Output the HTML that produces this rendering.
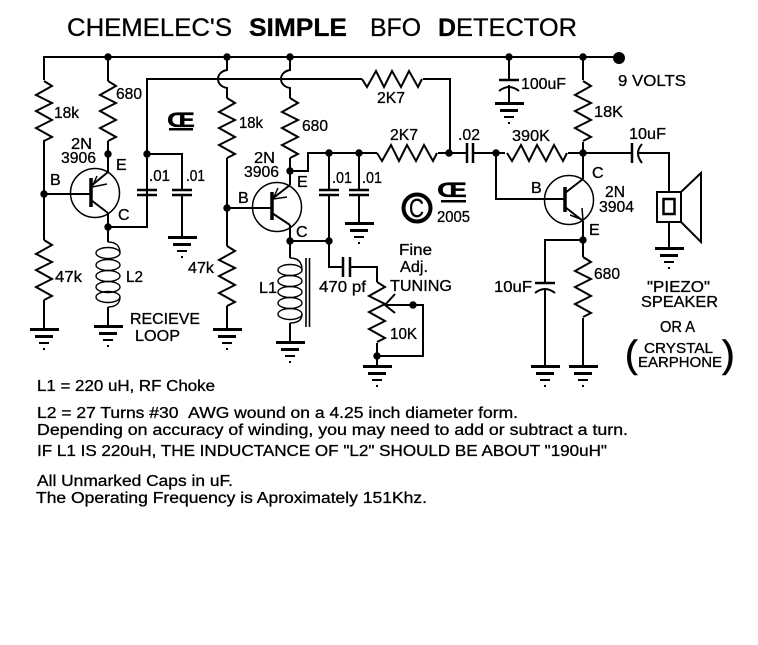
<!DOCTYPE html>
<html><head><meta charset="utf-8"><title>BFO Detector</title>
<style>
html,body{margin:0;padding:0;background:#fff}
svg{display:block}
text{font-family:"Liberation Sans",sans-serif;font-size:16px;fill:#000;stroke:#000;stroke-width:.3}
.t{font-size:25px}
.b{font-size:25px;font-weight:bold}
.s{font-size:15px}
.m{font-size:15.5px}
</style></head><body>
<svg xmlns="http://www.w3.org/2000/svg" width="758" height="645" viewBox="0 0 758 645">
<defs>
<polyline id="r" points="0,0 8,5 -8,14 8,22 -8,30 8,39 -8,47 8,56 0,60" fill="none" stroke="#000" stroke-width="2"/>
<g id="g">
<rect x="-14" y="-1" width="29" height="3" fill="#000"/>
<rect x="-9" y="6" width="18" height="3" fill="#000"/>
<rect x="-5" y="13" width="10" height="2" fill="#000"/>
<rect x="-1" y="19" width="2" height="2" fill="#000"/>
</g>
<circle id="d" r="3.7" fill="#000"/>
</defs>
<rect width="758" height="645" fill="#fff"/>
<g fill="none" stroke="#000" stroke-width="2">
<!-- rail -->
<path d="M44,80V57H619"/>
<!-- left stage -->
<path d="M44,140V240M44,300V329M44,194H91"/>
<path d="M108,57V81M108,141V172M108,213V242M108,307V326M108,227H147V190M147,195V227"/>
<path d="M147,190V79H218"/>
<path d="M147,154H182V190M182,195V237"/>
<path d="M137,190H157M137,195H157M172,190H192M172,195H192" stroke-width="2.5"/>
<path d="M91,186L108,172M91,200L108,213"/>
<path d="M91,178V207" stroke-width="3.5"/>
<path d="M92,187L97,176M92,187L107,184" stroke-width="1.5"/>
<circle cx="95" cy="193" r="24.5" stroke-width="1.5"/>
<!-- L2 -->
<g stroke-width="1.4">
<ellipse cx="108" cy="253" rx="12" ry="5.5"/><ellipse cx="108" cy="265" rx="12" ry="5.5"/><ellipse cx="108" cy="276" rx="12" ry="5.5"/><ellipse cx="108" cy="287" rx="12" ry="5.5"/><ellipse cx="108" cy="297" rx="12" ry="5.5"/>
<path d="M108,242C116,242 120,246 120,253M120,297C120,303 116,307 108,307"/>
</g>
<!-- middle stage -->
<path d="M218,79H362"/>
<path d="M227,57V70C221,71 218,75 218,79C218,83 221,87 227,88V98M227,158V246M227,306V329"/>
<path d="M290,57V70C284,71 281,75 281,79C281,83 284,87 290,88V98M290,158V185M290,225V258M290,323V342"/>
<path d="M227,208H272"/>
<path d="M272,199L290,185M272,213L290,225"/>
<path d="M272,192V220" stroke-width="3.5"/>
<path d="M273,199L278,188M273,199L287,197" stroke-width="1.5"/>
<circle cx="277" cy="207" r="24.5" stroke-width="1.5"/>
<path d="M290,171H308V153H377M438,153H467M473,153H505"/>
<path d="M329,153V190M329,195V267H343M350,267H377V282M290,241H329M359,153V190M359,195V223"/>
<path d="M319,190H339M319,195H339M349,190H369M349,195H369" stroke-width="2.5"/>
<path d="M343,257V277M350,257V277" stroke-width="2.5"/>
<path d="M467,143V163M473,143V163" stroke-width="2.5"/>
<path d="M423,79H450V153"/>
<g stroke-width="1.4">
<ellipse cx="290" cy="270" rx="12" ry="5.5"/><ellipse cx="290" cy="281" rx="12" ry="5.5"/><ellipse cx="290" cy="292" rx="12" ry="5.5"/><ellipse cx="290" cy="303" rx="12" ry="5.5"/><ellipse cx="290" cy="314" rx="12" ry="5.5"/>
<path d="M290,258C298,258 302,262 302,270M302,314C302,320 298,323 290,323"/>
</g>
<path d="M306,258V327M309.5,258V327" stroke-width="1.6"/>
<!-- pot -->
<path d="M377,343V366M377,356H423V305H385M395,294L385,305L395,313"/>
<!-- right stage -->
<path d="M496,153V199H565"/>
<path d="M568,153H632M637,153H669V192"/>
<path d="M583,57V80M583,142V179M583,221V257M583,318V366M583,240H545V283M545,288V366"/>
<path d="M565,193L583,179M565,207L583,221"/>
<path d="M565,187V212" stroke-width="3.5"/>
<path d="M583,220L582,208M583,220L570,215" stroke-width="1.5"/>
<circle cx="569" cy="200" r="24.5" stroke-width="1.5"/>
<path d="M509,57V80M509,85V103"/>
<path d="M499,80H519M535,283H555M632,143V163" stroke-width="2.5"/>
<path d="M499,91Q509,83 519,91M535,293Q545,285 555,293M642,144Q634,153 642,163" stroke-width="2"/>
<!-- speaker -->
<rect x="657" y="192" width="24" height="30"/>
<rect x="663.5" y="199" width="11" height="15" stroke-width="2.5"/>
<path d="M681,192L701,173V242L681,222M669,222V248"/>
<!-- (C) -->
<circle cx="417" cy="208" r="13.5" stroke-width="4"/>
</g>
<!-- resistors -->
<use href="#r" transform="translate(44,81)"/>
<use href="#r" transform="translate(44,240)"/>
<use href="#r" transform="translate(108,81)"/>
<use href="#r" transform="translate(227,98)"/>
<use href="#r" transform="translate(227,246)"/>
<use href="#r" transform="translate(290,98)"/>
<use href="#r" transform="translate(377,282)"/>
<use href="#r" transform="translate(583,81)"/>
<use href="#r" transform="translate(583,257)"/>
<use href="#r" transform="matrix(0,1,1,0,362,79)"/>
<use href="#r" transform="matrix(0,1,1,0,377,153)"/>
<use href="#r" transform="matrix(0,1,1,0,507,153)"/>
<!-- grounds -->
<use href="#g" x="44" y="329"/><use href="#g" x="108" y="326"/><use href="#g" x="182" y="237"/>
<use href="#g" x="227" y="329"/><use href="#g" x="290" y="342"/><use href="#g" x="359" y="223"/>
<use href="#g" x="377" y="366"/><use href="#g" x="509" y="103"/><use href="#g" x="669" y="248"/>
<use href="#g" x="545" y="366"/><use href="#g" x="583" y="366"/>
<!-- dots -->
<use href="#d" x="108" y="57"/><use href="#d" x="227" y="57"/><use href="#d" x="290" y="57"/>
<use href="#d" x="509" y="57"/><use href="#d" x="583" y="57"/>
<circle cx="619" cy="58" r="6" fill="#000"/>
<use href="#d" x="108" y="154"/><use href="#d" x="147" y="154"/><use href="#d" x="44" y="194"/><use href="#d" x="108" y="227"/>
<use href="#d" x="227" y="208"/><use href="#d" x="290" y="171"/><use href="#d" x="329" y="153"/><use href="#d" x="359" y="153"/>
<use href="#d" x="290" y="241"/><use href="#d" x="329" y="241"/><use href="#d" x="449" y="153"/><use href="#d" x="496" y="153"/>
<use href="#d" x="583" y="153"/><use href="#d" x="583" y="240"/><use href="#d" x="413" y="305"/><use href="#d" x="377" y="356"/>
<!-- title -->
<text class="t" x="67" y="36" textLength="165" lengthAdjust="spacingAndGlyphs">CHEMELEC'S</text>
<text class="b" x="249" y="36" textLength="98" lengthAdjust="spacingAndGlyphs">SIMPLE</text>
<text class="t" x="370" y="36" textLength="51" lengthAdjust="spacingAndGlyphs">BFO</text>
<text class="b" x="438" y="36">D</text>
<text class="t" x="456" y="36" textLength="121" lengthAdjust="spacingAndGlyphs">ETECTOR</text>
<!-- left labels -->
<text x="54" y="118" textLength="25" lengthAdjust="spacingAndGlyphs">18k</text>
<text x="116" y="99" textLength="26" lengthAdjust="spacingAndGlyphs">680</text>
<text x="71" y="149" textLength="21" lengthAdjust="spacingAndGlyphs">2N</text>
<text x="61" y="163" textLength="35" lengthAdjust="spacingAndGlyphs">3906</text>
<text x="116" y="170">E</text>
<text x="50" y="185">B</text>
<text x="149" y="181" textLength="21" lengthAdjust="spacingAndGlyphs">.01</text>
<text x="186" y="181" textLength="19" lengthAdjust="spacingAndGlyphs">.01</text>
<text x="118" y="220">C</text>
<text x="126" y="282" textLength="17" lengthAdjust="spacingAndGlyphs">L2</text>
<text x="55" y="282" textLength="27" lengthAdjust="spacingAndGlyphs">47k</text>
<text x="188" y="273" textLength="26" lengthAdjust="spacingAndGlyphs">47k</text>
<text x="130" y="324" textLength="70" lengthAdjust="spacingAndGlyphs">RECIEVE</text>
<text x="135" y="341" textLength="45" lengthAdjust="spacingAndGlyphs">LOOP</text>
<text style="font-size:21px;font-weight:bold" x="167" y="127" textLength="28" lengthAdjust="spacingAndGlyphs">Œ</text>
<rect x="169" y="128" width="24" height="2.5" fill="#000"/>
<!-- middle labels -->
<text x="239" y="128" textLength="24" lengthAdjust="spacingAndGlyphs">18k</text>
<text x="302" y="131" textLength="26" lengthAdjust="spacingAndGlyphs">680</text>
<text x="377" y="103" textLength="28" lengthAdjust="spacingAndGlyphs">2K7</text>
<text x="390" y="140" textLength="28" lengthAdjust="spacingAndGlyphs">2K7</text>
<text x="254" y="163" textLength="21" lengthAdjust="spacingAndGlyphs">2N</text>
<text x="244" y="177" textLength="35" lengthAdjust="spacingAndGlyphs">3906</text>
<text x="297" y="187">E</text>
<text x="238" y="203">B</text>
<text x="296" y="237">C</text>
<text x="332" y="183" textLength="20" lengthAdjust="spacingAndGlyphs">.01</text>
<text x="362" y="183" textLength="20" lengthAdjust="spacingAndGlyphs">.01</text>
<text x="259" y="293" textLength="18" lengthAdjust="spacingAndGlyphs">L1</text>
<text x="319" y="292" textLength="47" lengthAdjust="spacingAndGlyphs">470 pf</text>
<text x="399" y="255" textLength="33" lengthAdjust="spacingAndGlyphs">Fine</text>
<text x="400" y="272" textLength="28" lengthAdjust="spacingAndGlyphs">Adj.</text>
<text x="390" y="291" textLength="62" lengthAdjust="spacingAndGlyphs">TUNING</text>
<text x="390" y="339" textLength="27" lengthAdjust="spacingAndGlyphs">10K</text>
<text style="font-size:26px" x="409" y="217" textLength="15" lengthAdjust="spacingAndGlyphs">C</text>
<text style="font-size:21px;font-weight:bold" x="437" y="197" textLength="30" lengthAdjust="spacingAndGlyphs">Œ</text>
<rect x="441" y="200" width="25" height="2.5" fill="#000"/>
<text x="437" y="222" textLength="33" lengthAdjust="spacingAndGlyphs">2005</text>
<text x="458" y="140" textLength="22" lengthAdjust="spacingAndGlyphs">.02</text>
<!-- right labels -->
<text x="521" y="89" textLength="45" lengthAdjust="spacingAndGlyphs">100uF</text>
<text x="618" y="86" textLength="68" lengthAdjust="spacingAndGlyphs">9 VOLTS</text>
<text x="594" y="117" textLength="29" lengthAdjust="spacingAndGlyphs">18K</text>
<text x="512" y="141" textLength="38" lengthAdjust="spacingAndGlyphs">390K</text>
<text x="629" y="139" textLength="37" lengthAdjust="spacingAndGlyphs">10uF</text>
<text x="592" y="178">C</text>
<text x="531" y="193">B</text>
<text x="605" y="197" textLength="20" lengthAdjust="spacingAndGlyphs">2N</text>
<text x="599" y="212" textLength="35" lengthAdjust="spacingAndGlyphs">3904</text>
<text x="589" y="235">E</text>
<text x="594" y="279" textLength="26" lengthAdjust="spacingAndGlyphs">680</text>
<text x="494" y="292" textLength="38" lengthAdjust="spacingAndGlyphs">10uF</text>
<text x="647" y="292" textLength="63" lengthAdjust="spacingAndGlyphs">"PIEZO"</text>
<text x="641" y="307" textLength="77" lengthAdjust="spacingAndGlyphs">SPEAKER</text>
<text x="660" y="332" textLength="35" lengthAdjust="spacingAndGlyphs">OR A</text>
<text class="s" x="644" y="353" textLength="69" lengthAdjust="spacingAndGlyphs">CRYSTAL</text>
<text class="s" x="638" y="367" textLength="84" lengthAdjust="spacingAndGlyphs">EARPHONE</text>
<text style="font-size:38px;stroke-width:.6" x="625" y="367">(</text>
<text style="font-size:38px;stroke-width:.6" x="722" y="367">)</text>
<!-- notes -->
<text class="m" x="37" y="391" textLength="178" lengthAdjust="spacingAndGlyphs">L1 = 220 uH, RF Choke</text>
<text class="m" x="37" y="418" textLength="481" lengthAdjust="spacingAndGlyphs">L2 = 27 Turns #30&#160;&#160;AWG wound on a 4.25 inch diameter form.</text>
<text class="m" x="37" y="435" textLength="591" lengthAdjust="spacingAndGlyphs">Depending on accuracy of winding, you may need to add or subtract a turn.</text>
<text class="m" x="37" y="456" textLength="570" lengthAdjust="spacingAndGlyphs">IF L1 IS 220uH, THE INDUCTANCE OF "L2" SHOULD BE ABOUT "190uH"</text>
<text class="m" x="37" y="486" textLength="196" lengthAdjust="spacingAndGlyphs">All Unmarked Caps in uF.</text>
<text class="m" x="36" y="503" textLength="391" lengthAdjust="spacingAndGlyphs">The Operating Frequency is Aproximately 151Khz.</text>
</svg>
</body></html>
